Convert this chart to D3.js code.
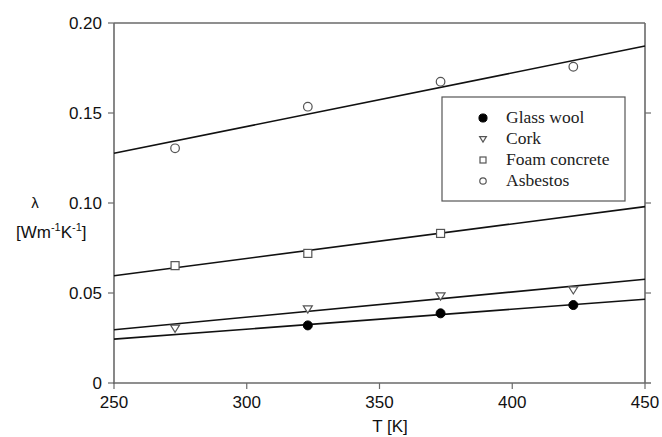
<!DOCTYPE html>
<html>
<head>
<meta charset="utf-8">
<script src="https://cdn.jsdelivr.net/npm/d3@7"></script>
<style>
  html, body { margin: 0; padding: 0; background: #fff; }
  svg { display: block; }
  .tick-label { font-family: "Liberation Sans", Arial, sans-serif; font-size: 17px; fill: #111; }
  .legend-text { font-family: "Liberation Serif", "Times New Roman", serif; font-size: 17.5px; fill: #222; }
</style>
</head>
<body>
<svg id="chart" width="662" height="437"></svg>
<script>
// measured temperatures [K]
const temps = [273, 323, 373, 423];

// thermal conductivity per material (null = no point drawn)
const glassWool    = [null, 0.032, 0.0387, 0.0433];
const cork         = [0.0304, 0.0411, 0.0483, 0.0517];
const foamConcrete = [0.0652, 0.072, 0.0831, null];
const asbestos     = [0.1304, 0.1535, 0.1674, 0.1757];

// fitted lines, read at the plot edges
const fitT = [250, 450];
const fitGlassWool    = [0.0244, 0.0465];
const fitCork         = [0.0296, 0.0576];
const fitFoamConcrete = [0.0596, 0.098];
const fitAsbestos     = [0.1276, 0.1872];

const xTicks = [250, 300, 350, 400, 450];
const yTicks = [0, 0.05, 0.10, 0.15, 0.20];
const yTickLabels = ["0", "0.05", "0.10", "0.15", "0.20"];

const series = [
  { name: "Glass wool",    vals: glassWool,    fit: fitGlassWool,    sym: "fillcircle" },
  { name: "Cork",          vals: cork,         fit: fitCork,         sym: "triangle" },
  { name: "Foam concrete", vals: foamConcrete, fit: fitFoamConcrete, sym: "square" },
  { name: "Asbestos",      vals: asbestos,     fit: fitAsbestos,     sym: "circle" },
];

const svg = d3.select("#chart");
const L = 114, R = 645, T = 23, B = 383;
const AXIS = "#6a6a6a";

const x = d3.scaleLinear().domain([250, 450]).range([L, R]);
const y = d3.scaleLinear().domain([0, 0.20]).range([B, T]);

// frame: left, bottom, top, right
svg.append("line").attr("x1", L).attr("x2", L).attr("y1", T).attr("y2", B + 1)
  .attr("stroke", AXIS).attr("stroke-width", 1.6);
svg.append("line").attr("x1", L - 1).attr("x2", R + 6).attr("y1", B).attr("y2", B)
  .attr("stroke", AXIS).attr("stroke-width", 1.6);
svg.append("line").attr("x1", L).attr("x2", R).attr("y1", T).attr("y2", T)
  .attr("stroke", AXIS).attr("stroke-width", 1.6);
svg.append("line").attr("x1", R).attr("x2", R).attr("y1", T).attr("y2", B)
  .attr("stroke", AXIS).attr("stroke-width", 1.6);

// y ticks, left (outward) and right (outward)
const gy = svg.append("g");
gy.selectAll("line.yl").data(yTicks).enter().append("line")
  .attr("x1", L - 6).attr("x2", L).attr("y1", d => y(d)).attr("y2", d => y(d))
  .attr("stroke", AXIS).attr("stroke-width", 1.2);
gy.selectAll("line.yr").data(yTicks.slice(1, 4)).enter().append("line")
  .attr("x1", R).attr("x2", R + 6).attr("y1", d => y(d)).attr("y2", d => y(d))
  .attr("stroke", AXIS).attr("stroke-width", 1.2);
gy.selectAll("text").data(yTicks).enter().append("text")
  .attr("class", "tick-label")
  .attr("x", L - 12).attr("y", d => y(d) + 6)
  .attr("text-anchor", "end")
  .text((d, i) => yTickLabels[i]);

// x ticks
const gx = svg.append("g");
gx.selectAll("line").data(xTicks).enter().append("line")
  .attr("x1", d => x(d)).attr("x2", d => x(d)).attr("y1", B).attr("y2", B + 6)
  .attr("stroke", AXIS).attr("stroke-width", 1.2);
gx.selectAll("text").data(xTicks).enter().append("text")
  .attr("class", "tick-label")
  .attr("x", d => x(d)).attr("y", 408)
  .attr("text-anchor", "middle")
  .text(d => d);

// axis titles
svg.append("text").attr("class", "tick-label")
  .attr("x", 390).attr("y", 432).attr("text-anchor", "middle").text("T [K]");
svg.append("text").attr("class", "tick-label")
  .attr("x", 35).attr("y", 208).attr("text-anchor", "middle").style("font-size", "15px").text("λ");
const unit = svg.append("text").attr("class", "tick-label")
  .attr("x", 16).attr("y", 238);
unit.append("tspan").text("[Wm");
unit.append("tspan").attr("dy", -7).style("font-size", "11px").text("-1");
unit.append("tspan").attr("dy", 7).text("K");
unit.append("tspan").attr("dy", -7).style("font-size", "11px").text("-1");
unit.append("tspan").attr("dy", 7).text("]");

// fitted lines
const line = d3.line().x(d => x(d[0])).y(d => y(d[1]));
series.forEach(s => {
  svg.append("path")
    .attr("d", line(fitT.map((t, i) => [t, s.fit[i]])))
    .attr("fill", "none").attr("stroke", "#111").attr("stroke-width", 1.6);
});

// markers
function drawSymbol(g, sym, cx, cy, scale) {
  const k = scale || 1;
  if (sym === "fillcircle") {
    g.append("circle").attr("cx", cx).attr("cy", cy).attr("r", 4.5 * k)
      .attr("fill", "#000").attr("stroke", "#000");
  } else if (sym === "circle") {
    g.append("circle").attr("cx", cx).attr("cy", cy).attr("r", 4.3 * k)
      .attr("fill", "#fff").attr("stroke", "#555").attr("stroke-width", 1.2);
  } else if (sym === "square") {
    const h = 4 * k;
    g.append("rect").attr("x", cx - h).attr("y", cy - h).attr("width", 2 * h).attr("height", 2 * h)
      .attr("fill", "#fff").attr("stroke", "#555").attr("stroke-width", 1.2);
  } else if (sym === "triangle") {
    const h = 4.5 * k;
    g.append("path")
      .attr("d", `M${cx - h},${cy - h * 0.7}L${cx + h},${cy - h * 0.7}L${cx},${cy + h * 0.9}Z`)
      .attr("fill", "#fff").attr("stroke", "#555").attr("stroke-width", 1.2);
  }
}

const gm = svg.append("g");
series.forEach(s => {
  s.vals.forEach((v, i) => {
    if (v === null) return;
    drawSymbol(gm, s.sym, x(temps[i]), y(v));
  });
});

// legend
const lg = svg.append("g");
lg.append("rect").attr("x", 442).attr("y", 97).attr("width", 183).attr("height", 104)
  .attr("fill", "#fff").attr("stroke", "#555").attr("stroke-width", 1.2);
series.forEach((s, i) => {
  const cy = 118 + i * 21;
  drawSymbol(lg, s.sym, 483, cy, s.sym === "fillcircle" ? 0.9 : 0.75);
  lg.append("text").attr("class", "legend-text")
    .attr("x", 506).attr("y", cy + 5).text(s.name);
});
</script>
</body>
</html>
